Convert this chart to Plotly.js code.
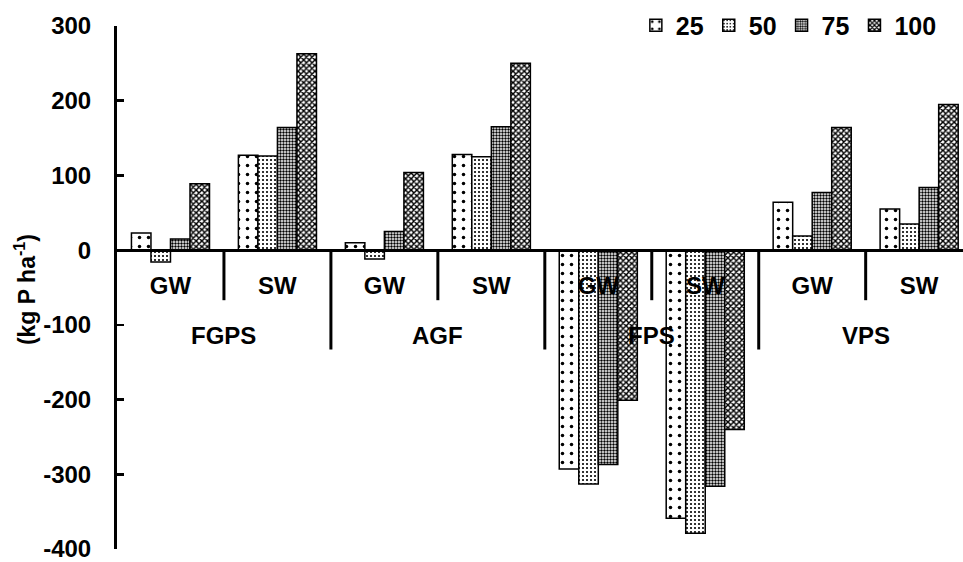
<!DOCTYPE html>
<html><head><meta charset="utf-8">
<script src="https://cdn.plot.ly/plotly-3.0.1.min.js"></script>
<style>body{margin:0;background:#fff}#chart{width:963px;height:562px}</style>
</head><body><div id="chart"></div>
<script>
const groups = ['FGPS', 'AGF', 'FPS', 'VPS'];
const subLabels = ['GW', 'SW', 'GW', 'SW', 'GW', 'SW', 'GW', 'SW'];
const seriesNames = ['25', '50', '75', '100'];
const v25 = [23, 127, 10, 128, -293, -359, 64, 55];
const v50 = [-16, 126, -12, 125, -313, -379, 19, 35];
const v75 = [15, 164, 25, 165, -287, -316, 77, 84];
const v100 = [89, 263, 104, 250, -201, -240, 164, 195];
const yTicks = [300, 200, 100, 0, -100, -200, -300, -400];
const yTickLabels = ['300', '200', '100', '0', '-100', '-200', '-300', '-400'];
const yTitle = '(kg P ha<sup>-1</sup>)';

const FONT = '"Liberation Sans", Arial, sans-serif';
const idx = subLabels.map((_, i) => i);
const values = [v25, v50, v75, v100];
const patterns = [
  {shape: '.', size: 9, solidity: 0.12},
  {shape: '.', size: 4, solidity: 0.22},
  {shape: '.', size: 3, solidity: 0.5},
  {shape: 'x', size: 4, solidity: 0.6}
];

const traces = seriesNames.map((name, k) => ({
  type: 'bar',
  name: name,
  x: idx,
  y: values[k],
  marker: {
    color: '#ffffff',
    line: {color: '#000', width: 1.5},
    pattern: Object.assign({fgcolor: '#000', bgcolor: '#fff', fillmode: 'replace'}, patterns[k])
  },
  hoverinfo: 'name+y'
}));

const yMin = -400, yMax = 300;
const shapes = [];
for (let i = 0; i < subLabels.length - 1; i++) {
  const isGroupEdge = (i + 1) % 2 === 0;
  shapes.push({
    type: 'line', xref: 'x', yref: 'y',
    x0: i + 0.5, x1: i + 0.5, y0: 0, y1: isGroupEdge ? -133 : -67,
    line: {color: '#000', width: 3}, layer: 'above'
  });
}

const annotations = groups.map((g, j) => ({
  text: g, xref: 'x', yref: 'y', x: 2 * j + 0.5, y: 0,
  yshift: -85, yanchor: 'middle', showarrow: false,
  font: {family: FONT, size: 24, color: '#000', weight: 700}
}));
annotations.push({
  text: yTitle, xref: 'paper', yref: 'paper', x: 0, y: 0.495,
  xshift: -92, xanchor: 'center', yanchor: 'middle', textangle: -90,
  showarrow: false,
  font: {family: FONT, size: 23, color: '#000', weight: 700}
});

const layout = {
  width: 963, height: 562,
  margin: {l: 117, r: 0, t: 26, b: 13},
  paper_bgcolor: '#fff', plot_bgcolor: '#fff',
  barmode: 'group', bargap: 0.27, bargroupgap: 0,
  showlegend: true,
  legend: {
    orientation: 'h', x: 0.975, xanchor: 'right', y: 1.045, yanchor: 'top',
    font: {family: FONT, size: 25, color: '#000', weight: 700},
    traceorder: 'normal', bgcolor: 'rgba(0,0,0,0)', itemwidth: 30
  },
  xaxis: {
    range: [-0.5, 7.41],
    tickmode: 'array', tickvals: idx, ticktext: subLabels,
    anchor: 'free', position: (0 - yMin) / (yMax - yMin),
    showline: true, linecolor: '#000', linewidth: 3,
    ticks: '', showgrid: false, zeroline: false,
    tickfont: {family: FONT, size: 24, color: '#000', weight: 700},
    ticklabelstandoff: 13, fixedrange: true
  },
  yaxis: {
    range: [yMin, yMax],
    tickmode: 'array', tickvals: yTicks, ticktext: yTickLabels,
    ticks: 'inside', ticklen: 7, tickwidth: 2.5, tickcolor: '#000',
    showline: true, linecolor: '#000', linewidth: 3,
    showgrid: false, zeroline: false,
    tickfont: {family: FONT, size: 24, color: '#000', weight: 700},
    ticklabelstandoff: 18, ticklabeloverflow: 'allow',
    fixedrange: true
  },
  shapes: shapes,
  annotations: annotations
};

Plotly.newPlot('chart', traces, layout, {displayModeBar: false, staticPlot: true});
</script>
</body></html>
